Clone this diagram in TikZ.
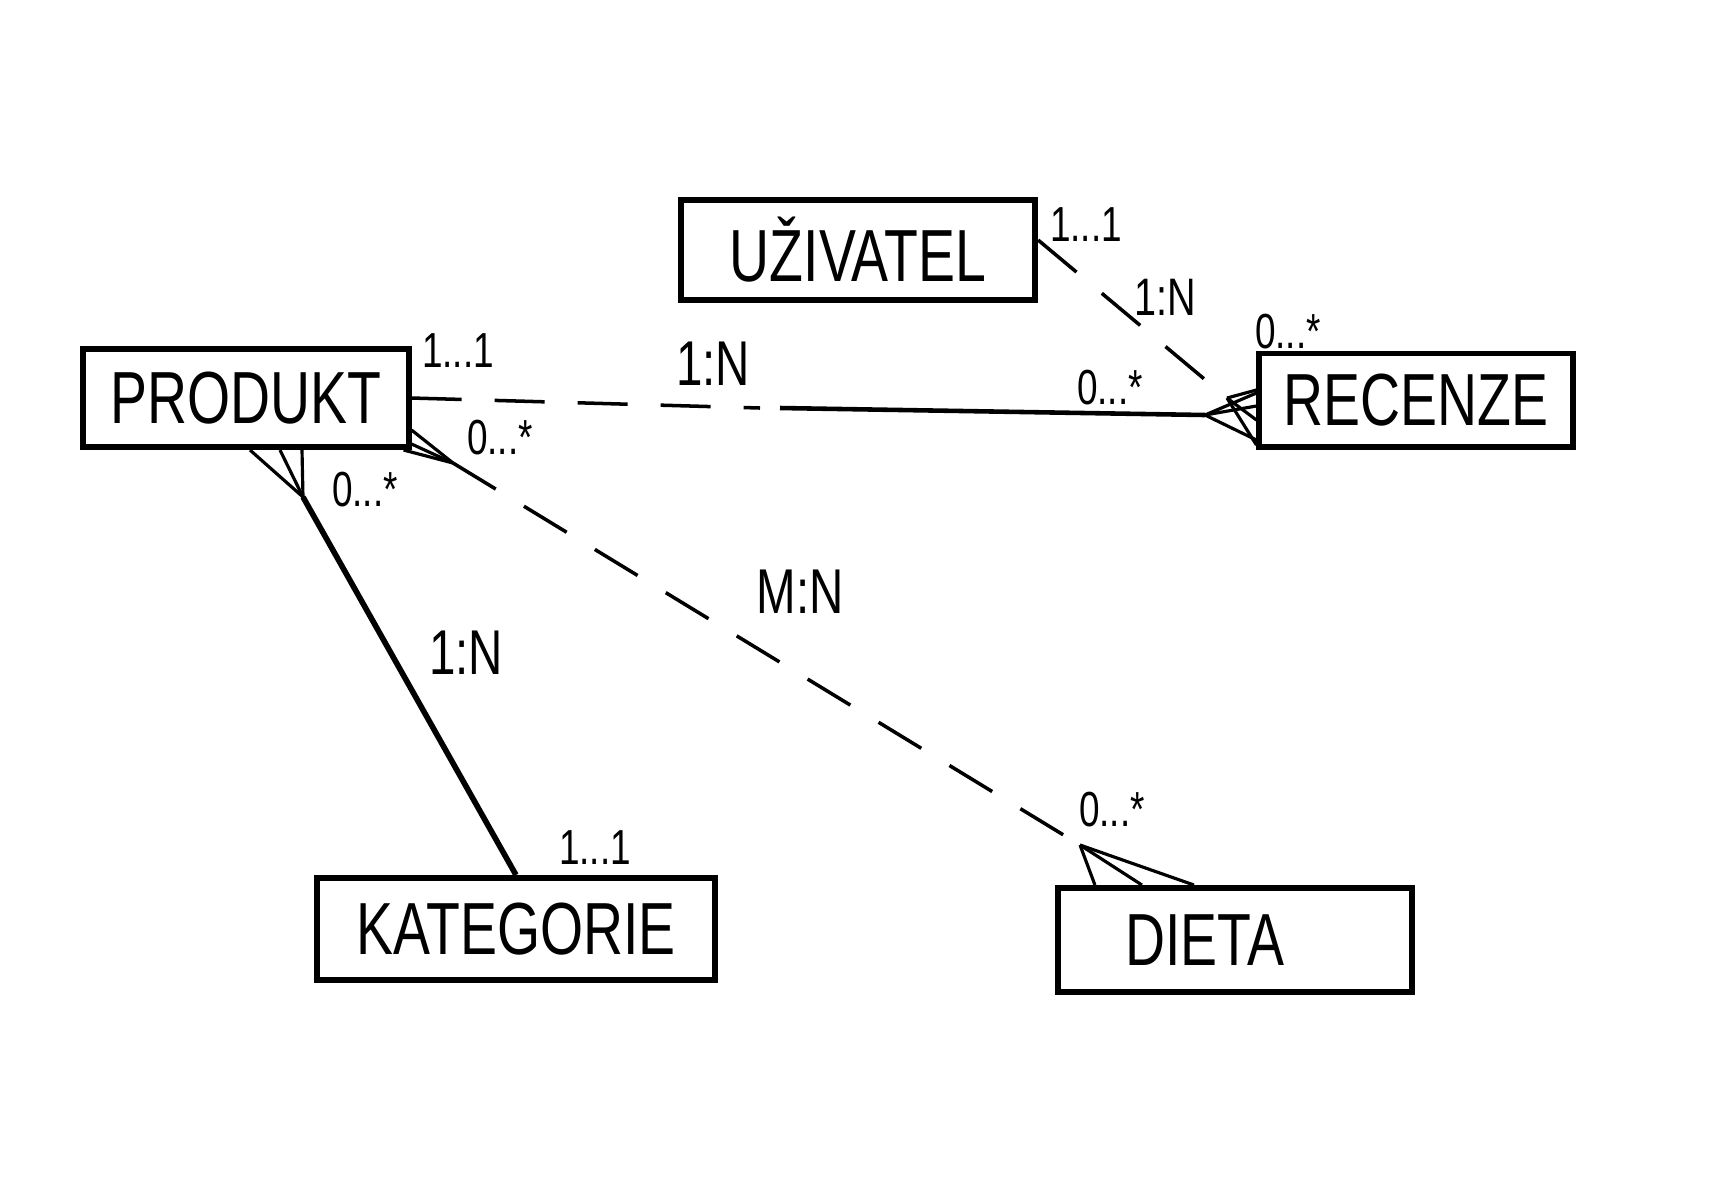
\documentclass[tikz,border=0pt]{standalone}
\usepackage{fontspec}
\setmainfont{Liberation Sans}[FakeStretch=0.75]
\usepackage{tikz}
\usetikzlibrary{calc}

\begin{document}
\begin{tikzpicture}[x=0.01cm, y=-0.01cm, thick,
    entity/.style={draw, line width=1.7pt, inner sep=0pt, font=\fontsize{21}{24}\selectfont},
    card/.style={font=\fontsize{14}{16}\selectfont, inner sep=1pt},
    ratio/.style={font=\fontsize{18}{20}\selectfont, inner sep=1pt},
    relsolid/.style={line width=1.3pt},
    reldash/.style={line width=1pt, dash pattern=on 0.5cm off 0.33cm},
    foot/.style={line width=0.9pt}]
        \useasboundingbox (0,0) rectangle (1725,1202);

        % Define coordinates
        \coordinate (cfPK) at (303, 497);
        \coordinate (cfPD) at (453, 463);
        \coordinate (cfPR) at (1205, 415);
        \coordinate (cfUR) at (1227, 398);
        \coordinate (cfD) at (1080, 845);
        \coordinate (prMid) at (760, 408);

        % Draw the entities
        \node[entity, minimum width=3.25cm, minimum height=0.98cm] (produkt) at (246, 398) {PRODUKT};
        \node[entity, minimum width=3.54cm, minimum height=1.0cm] (uzivatel) at (858, 250) {UŽIVATEL};
        \node[entity, minimum width=3.13cm, minimum height=0.93cm] (recenze) at (1416, 400) {RECENZE};
        \node[entity, minimum width=3.98cm, minimum height=1.02cm] (kategorie) at (516, 929) {KATEGORIE};
        \node[entity, minimum width=3.54cm, minimum height=1.04cm] (dieta) at (1235, 940) {\hspace*{-0.6cm}DIETA};

        % Produkt -- Recenze (dashed, then solid)
        \draw[reldash] (produkt.east) -- (prMid);
        \draw[relsolid] ($(prMid)+(20,0)$) -- (cfPR);
        \draw[foot] (cfPR) -- ($(recenze.west)+(0,-7)$);
        \draw[foot] (cfPR) -- ($(recenze.west)+(0,6)$);
        \draw[foot] (cfPR) -- ($(recenze.west)+(0,40)$);

        % Uzivatel -- Recenze
        \draw[reldash] ($(uzivatel.east)+(0,-10)$) -- (cfUR);
        \draw[foot] (cfUR) -- ($(recenze.west)+(0,-10)$);
        \draw[foot] (cfUR) -- ($(recenze.west)+(0,20)$);
        \draw[foot] (cfUR) -- ($(recenze.west)+(0,45)$);

        % Produkt -- Dieta
        \draw[reldash] (cfPD) -- (cfD);
        \draw[foot] (cfPD) -- ($(produkt.south east)+(0,-20)$);
        \draw[foot] (cfPD) -- ($(produkt.south east)+(0,-6)$);
        \draw[foot] (cfPD) -- ($(produkt.south east)+(-8,0)$);
        \draw[foot] (cfD) -- ($(dieta.north west)+(40,0)$);
        \draw[foot] (cfD) -- ($(dieta.north west)+(87,0)$);
        \draw[foot] (cfD) -- ($(dieta.north west)+(139,0)$);

        % Produkt -- Kategorie
        \draw[relsolid, line width=1.6pt] (cfPK) -- (kategorie.north);
        \draw[foot] (cfPK) -- ($(produkt.south)+(4,0)$);
        \draw[foot] (cfPK) -- ($(produkt.south)+(34,0)$);
        \draw[foot] (cfPK) -- ($(produkt.south)+(56,0)$);

        % Cardinalities
        \node[card] (cPR1) at (458, 351) {1...1};
        \node[ratio] (rPR) at (713, 364) {1:N};
        \node[card] (cPR2) at (1110, 388) {0...*};
        \node[card] (cUR1) at (1086, 225) {1...1};
        \node[ratio, font=\fontsize{15}{18}\selectfont] (rUR) at (1165, 297) {1:N};
        \node[card] (cUR2) at (1288, 332) {0...*};
        \node[card] (cPD1) at (500, 438) {0...*};
        \node[ratio] (rPD) at (800, 592) {M:N};
        \node[card] (cPD2) at (1112, 810) {0...*};
        \node[card] (cPK1) at (365, 490) {0...*};
        \node[ratio] (rPK) at (466, 653) {1:N};
        \node[card] (cPK2) at (595, 848) {1...1};
      \end{tikzpicture}
\end{document}
